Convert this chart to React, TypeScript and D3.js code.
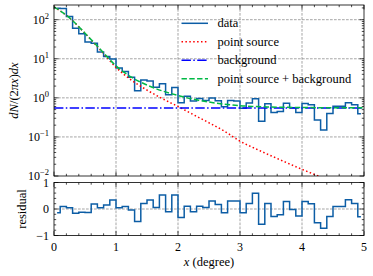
import React from 'react'
import * as d3 from 'd3'

const width = 373
const height = 276

// histogram bins, 0.1 degree wide
const binCenters = d3.range(50).map(i => (i + 0.5) / 10)
const counts = [
  196, 192, 120, 60, 44, 27, 25, 15, 11.5, 9.8,
  5.8, 4.7, 3.35, 1.52, 2.85, 2.7, 1.86, 2.3, 1.2, 1.84,
  0.75, 1.1, 0.83, 0.96, 0.86, 0.99, 0.84, 0.59, 0.86, 0.83,
  0.54, 0.74, 0.95, 0.25, 0.71, 0.42, 0.45, 0.73, 0.56, 0.42,
  0.72, 0.67, 0.27, 0.15, 0.4, 0.61, 0.61, 0.75, 0.67, 0.39,
]
const residuals = [
  -0.14, 0.09, 0.05, -0.16, -0.12, -0.13, 0.19, 0.05, 0.15, 0.34,
  0.05, 0.09, -0.04, -0.47, 0.21, 0.34, 0.06, 0.53, -0.1, 0.53,
  -0.32, 0.1, -0.1, 0.1, 0.06, 0.3, 0.17, -0.14, 0.3, 0.3,
  -0.14, 0.21, 0.59, -0.58, 0.21, -0.28, -0.22, 0.28, -0.02, -0.26,
  0.28, 0.2, -0.52, -0.73, -0.28, 0.09, 0.09, 0.35, 0.21, -0.29,
]

// fitted model, read every 0.25 degree
const modelX = d3.range(21).map(i => i * 0.25)
const pointSource = [
  213, 111, 44.7, 16.6, 6.03, 2.82, 1.58, 0.95, 0.6, 0.37, 0.23,
  0.14, 0.078, 0.05, 0.033, 0.022, 0.0148, 0.0102, 0.007, 0.005, 0.0035,
]
const backgroundLevel = 0.55
const total = [
  213.5, 111.5, 45.2, 17.2, 6.6, 3.37, 2.13, 1.5, 1.15, 0.92, 0.78,
  0.69, 0.628, 0.6, 0.583, 0.572, 0.565, 0.56, 0.557, 0.555, 0.554,
]

const xTicks = [0, 1, 2, 3, 4, 5]
const yTicks = [-2, -1, 0, 1, 2]
const resTicks = [-1, 0, 1]
const resTickLabels = ['\u22121', '0', '1']

const legendItems = [
  {label: 'data', color: '#0C5DA5', dash: undefined},
  {label: 'point source', color: '#ff0000', dash: '1.5,2.4'},
  {label: 'background', color: '#0000ff', dash: '9.4,2.4,1.5,2.4'},
  {label: 'point source + background', color: '#00B945', dash: '5.4,2.4'},
]

const L = 54, R = 364
const mainTop = 5, mainBot = 176
const resTop = 182.5, resBot = 235.5
const font = '"Liberation Serif", "Times New Roman", serif'
const gridStyle = {stroke: '#808080', strokeWidth: 0.7, strokeDasharray: '2.7,1.3'}

export default function App() {
  const x = d3.scaleLinear().domain([0, 5]).range([L, R])
  const y = d3.scaleLog().domain([1e-2, Math.pow(10, 2.376)]).range([mainBot, mainTop])
  const yr = d3.scaleLinear().domain([-1, 1]).range([resBot, resTop])

  const dataLine = d3.line<number>()
    .x((d, i) => x(binCenters[i]))
    .y(d => y(d))
    .curve(d3.curveStep)
  const resLine = d3.line<number>()
    .x((d, i) => x(binCenters[i]))
    .y(d => yr(d))
    .curve(d3.curveStep)
  const modelLine = d3.line<number>()
    .x((d, i) => x(modelX[i]))
    .y(d => y(d))
    .curve(d3.curveMonotoneX)

  const xMinor = d3.range(26).map(i => i * 0.2).filter(v => Math.abs(v - Math.round(v)) > 1e-6)
  const yMinor: number[] = []
  yTicks.forEach(e => {
    for (let k = 2; k <= 9; k++) {
      const v = k * Math.pow(10, e)
      if (v < y.domain()[1]) yMinor.push(v)
    }
  })
  const resMinor = d3.range(-4, 5).map(i => i * 0.2).filter(v => Math.abs(v) > 1e-6)

  // inward ticks on all four sides of a panel
  const xTickMarks = (top: number, bot: number) => (
    <g stroke="#000" strokeWidth={0.7}>
      {xTicks.map(t => (
        <g key={'M' + t}>
          <line x1={x(t)} x2={x(t)} y1={bot} y2={bot - 4.4} />
          <line x1={x(t)} x2={x(t)} y1={top} y2={top + 4.4} />
        </g>
      ))}
      {xMinor.map(t => (
        <g key={'m' + t}>
          <line x1={x(t)} x2={x(t)} y1={bot} y2={bot - 2.2} />
          <line x1={x(t)} x2={x(t)} y1={top} y2={top + 2.2} />
        </g>
      ))}
    </g>
  )
  const yTickMarks = (vals: number[], len: number, scale: (v: number) => number) => (
    <g stroke="#000" strokeWidth={0.7}>
      {vals.map((v, i) => (
        <g key={i}>
          <line x1={L} x2={L + len} y1={scale(v)} y2={scale(v)} />
          <line x1={R} x2={R - len} y1={scale(v)} y2={scale(v)} />
        </g>
      ))}
    </g>
  )

  return (
    <svg width={width} height={height} style={{position: 'absolute', left: 0, top: 0, background: '#fff'}}
      fontFamily={font}>
      <defs>
        <clipPath id="mainClip">
          <rect x={L} y={mainTop} width={R - L} height={mainBot - mainTop} />
        </clipPath>
        <clipPath id="resClip">
          <rect x={L} y={resTop} width={R - L} height={resBot - resTop} />
        </clipPath>
      </defs>

      {/* main panel grid */}
      <g {...gridStyle}>
        {xTicks.slice(1, -1).map(t => <line key={t} x1={x(t)} x2={x(t)} y1={mainTop} y2={mainBot} />)}
        {yTicks.slice(1).map(e => <line key={e} x1={L} x2={R} y1={y(Math.pow(10, e))} y2={y(Math.pow(10, e))} />)}
      </g>

      <g clipPath="url(#mainClip)" fill="none">
        <path d={dataLine(counts) || ''} stroke="#0C5DA5" strokeWidth={1.5} />
        <path d={modelLine(pointSource) || ''} stroke="#ff0000" strokeWidth={1.5} strokeDasharray="1.5,2.4" />
        <line x1={x(0)} x2={x(5)} y1={y(backgroundLevel)} y2={y(backgroundLevel)}
          stroke="#0000ff" strokeWidth={1.5} strokeDasharray="9.4,2.4,1.5,2.4" />
        <path d={modelLine(total) || ''} stroke="#00B945" strokeWidth={1.5} strokeDasharray="5.4,2.4" />
      </g>

      {xTickMarks(mainTop, mainBot)}
      {yTickMarks(yTicks.map(e => Math.pow(10, e)), 4.4, y)}
      {yTickMarks(yMinor, 2.2, y)}
      <rect x={L} y={mainTop} width={R - L} height={mainBot - mainTop} fill="none" stroke="#000" strokeWidth={0.8} />

      {yTicks.map(e => (
        <text key={e} x={49} y={y(Math.pow(10, e)) + 4.2} textAnchor="end" fontSize={12}>
          10<tspan dy={-5} fontSize={8.5}>{e < 0 ? '\u2212' + Math.abs(e) : e}</tspan>
        </text>
      ))}

      <text transform={`translate(18,${(mainTop + mainBot) / 2}) rotate(-90)`} textAnchor="middle" fontSize={12.5}>
        <tspan fontStyle="italic">dN</tspan>/(2<tspan fontStyle="italic">{'\u03c0x'}</tspan>)<tspan fontStyle="italic">dx</tspan>
      </text>

      {/* legend */}
      {legendItems.map((item, i) => {
        const ly = 23.3 + i * 18.5
        return (
          <g key={item.label}>
            <line x1={181.5} x2={208} y1={ly} y2={ly} stroke={item.color} strokeWidth={1.5}
              strokeDasharray={item.dash} />
            <text x={217.5} y={ly + 4} fontSize={12.5}>{item.label}</text>
          </g>
        )
      })}

      {/* residual panel */}
      <g {...gridStyle}>
        {xTicks.slice(1, -1).map(t => <line key={t} x1={x(t)} x2={x(t)} y1={resTop} y2={resBot} />)}
        <line x1={L} x2={R} y1={yr(0)} y2={yr(0)} />
      </g>
      <g clipPath="url(#resClip)" fill="none">
        <path d={resLine(residuals) || ''} stroke="#0C5DA5" strokeWidth={1.5} />
      </g>
      {xTickMarks(resTop, resBot)}
      {yTickMarks(resTicks, 4.4, yr)}
      {yTickMarks(resMinor, 2.2, yr)}
      <rect x={L} y={resTop} width={R - L} height={resBot - resTop} fill="none" stroke="#000" strokeWidth={0.8} />

      {resTicks.map((t, i) => (
        <text key={t} x={49} y={yr(t) + 4.2} textAnchor="end" fontSize={12}>{resTickLabels[i]}</text>
      ))}
      {xTicks.map(t => (
        <text key={t} x={x(t)} y={251} textAnchor="middle" fontSize={12}>{t}</text>
      ))}

      <text transform={`translate(25.5,${(resTop + resBot) / 2}) rotate(-90)`} textAnchor="middle" fontSize={12.5}>
        residual
      </text>
      <text x={(L + R) / 2} y={266} textAnchor="middle" fontSize={12.5}>
        <tspan fontStyle="italic">x</tspan> (degree)
      </text>
    </svg>
  )
}
